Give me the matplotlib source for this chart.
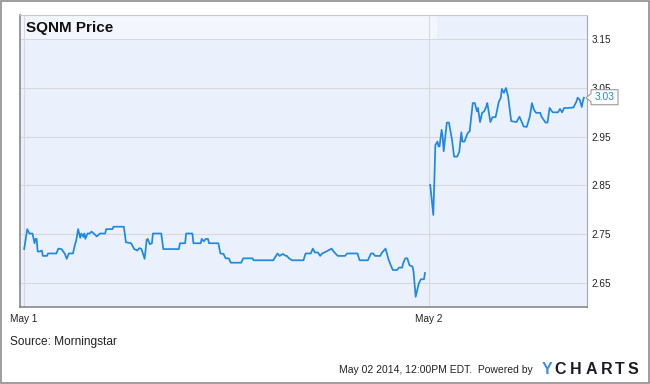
import matplotlib
matplotlib.use('Agg')
import matplotlib.pyplot as plt
from matplotlib.patches import Rectangle, Polygon

plt.rcParams['font.family'] = ['Liberation Sans', 'DejaVu Sans']

# ---------- datos (minutos de negociación desde la apertura del 1 de mayo) ----------
day1_min = [0, 3, 5, 8, 10, 11, 12, 13, 15, 17, 18, 22, 23, 31, 33, 36, 39, 41, 43, 47,
            49, 50, 52, 54, 55, 57, 58, 59, 61, 63, 65, 67, 70, 73, 78, 79, 85, 86, 96, 98,
            103, 106, 109, 111, 113, 116, 118, 119, 121, 123, 124, 132, 134, 149, 150, 155,
            156, 162, 163, 170, 171, 173, 175, 177, 178, 187, 189, 192, 194, 197, 199, 209,
            211, 220, 221, 240, 241, 244, 246, 249, 252, 253, 255, 258, 269, 271, 276, 278,
            280, 283, 285, 287, 291, 296, 298, 302, 309, 311, 321, 323, 331, 334, 336, 338,
            343, 344, 348, 351, 353, 355, 359, 361, 364, 365, 367, 369, 371, 374, 375, 377,
            380, 382, 385, 386]
day1_px = [2.719, 2.760, 2.751, 2.751, 2.731, 2.740, 2.740, 2.714, 2.714, 2.716, 2.705, 2.705,
           2.710, 2.710, 2.720, 2.719, 2.710, 2.699, 2.710, 2.710, 2.729, 2.735, 2.760, 2.742,
           2.751, 2.744, 2.751, 2.740, 2.751, 2.751, 2.755, 2.751, 2.745, 2.751, 2.751, 2.760,
           2.760, 2.765, 2.765, 2.733, 2.731, 2.719, 2.716, 2.721, 2.719, 2.699, 2.738, 2.740,
           2.729, 2.731, 2.751, 2.751, 2.719, 2.719, 2.731, 2.731, 2.751, 2.751, 2.731, 2.731,
           2.740, 2.735, 2.740, 2.740, 2.731, 2.731, 2.710, 2.709, 2.700, 2.700, 2.691, 2.691,
           2.700, 2.700, 2.696, 2.696, 2.700, 2.710, 2.705, 2.709, 2.705, 2.705, 2.700, 2.696,
           2.696, 2.710, 2.710, 2.720, 2.712, 2.712, 2.705, 2.710, 2.714, 2.720, 2.714, 2.705,
           2.705, 2.710, 2.710, 2.696, 2.696, 2.710, 2.710, 2.705, 2.705, 2.710, 2.720, 2.697,
           2.686, 2.676, 2.676, 2.681, 2.681, 2.690, 2.700, 2.700, 2.686, 2.683, 2.672, 2.621,
           2.648, 2.657, 2.657, 2.670]

day2_min = [391, 394, 396, 398, 399, 400, 402, 403, 404, 407, 409, 412, 414, 417, 419, 421,
            422, 424, 427, 429, 432, 434, 436, 437, 439, 441, 443, 445, 446, 449, 451, 454,
            457, 459, 460, 462, 464, 466, 469, 474, 477, 481, 484, 487, 489, 491, 493, 497,
            498, 502, 504, 506, 509, 514, 516, 518, 520, 524, 529, 532, 533, 535, 537, 538, 539]
day2_px = [2.851, 2.789, 2.933, 2.940, 2.930, 2.930, 2.964, 2.950, 2.920, 2.979, 2.979, 2.944,
           2.909, 2.909, 2.919, 2.959, 2.940, 2.940, 2.957, 2.961, 3.019, 3.019, 3.002, 3.009,
           2.980, 2.999, 3.002, 3.012, 3.019, 2.980, 2.990, 2.990, 3.021, 3.030, 3.048, 3.040,
           3.050, 3.033, 2.982, 2.980, 2.991, 2.971, 2.970, 2.992, 3.019, 3.005, 2.999, 2.999,
           2.992, 2.979, 2.979, 3.009, 3.000, 3.000, 3.007, 3.000, 3.009, 3.009, 3.010, 3.023,
           3.030, 3.026, 3.011, 3.023, 3.030]

tick_pos = [0, 390]
tick_labels = ['May 1', 'May 2']
y_ticks = [2.65, 2.75, 2.85, 2.95, 3.05, 3.15]
last_value = 3.03

LINE = '#1e88e5'
W, H = 650, 384

# ---------- figura ----------
fig = plt.figure(figsize=(W / 100, H / 100), dpi=100)
fig.patch.set_facecolor('white')
fig.add_artist(Rectangle((0.001, 0.002), 0.997, 0.996, transform=fig.transFigure,
                         fill=False, edgecolor='#8c8c8c', linewidth=1.2))

ax = fig.add_axes([20 / W, 1 - 307 / H, 567 / W, 292 / H])
ax.set_facecolor('#eaf1fc')
ax.plot(day1_min, day1_px, color=LINE, linewidth=1.25, solid_joinstyle='round')
ax.plot(day2_min, day2_px, color=LINE, linewidth=1.25, solid_joinstyle='round')

ax.set_xlim(-4, 542)
ax.set_ylim(2.6, 3.2)
ax.set_xticks(tick_pos)
ax.set_xticklabels(tick_labels)
ax.set_yticks(y_ticks)
ax.set_yticklabels([f'{v:.2f}' for v in y_ticks])
ax.yaxis.tick_right()
ax.tick_params(axis='both', length=0, labelsize=7.2, colors='#222222')
ax.tick_params(axis='y', pad=3)
ax.tick_params(axis='x', pad=5)
ax.grid(True, color='#d9d9d9', linewidth=0.8)
ax.set_axisbelow(True)
ax.spines['top'].set_color('#c8c8c8')
ax.spines['right'].set_color('#a8a8a8')
for side in ['left', 'bottom']:
    ax.spines[side].set_color('#888888')
    ax.spines[side].set_linewidth(1.2)

# banda del título
ax.add_patch(Rectangle((0, 0.914), 0.735, 0.086, transform=ax.transAxes,
                       facecolor='white', alpha=0.45, edgecolor='none', zorder=0.5))
ax.text(0.011, 0.957, 'SQNM Price', transform=ax.transAxes, fontsize=11,
        fontweight='bold', va='center', ha='left', color='#111111')

# etiqueta del último valor (caja con flecha hacia la izquierda)
x0, y0 = ax.transAxes.transform((1.0, 0))[0], ax.transData.transform((0, last_value))[1]
pts = [(x0 - 1, y0), (x0 + 4, y0 + 4), (x0 + 4, y0 + 8), (x0 + 31, y0 + 8),
       (x0 + 31, y0 - 7), (x0 + 4, y0 - 7), (x0 + 4, y0 - 4)]
pts = [fig.transFigure.inverted().transform(p) for p in pts]
fig.add_artist(Polygon(pts, closed=True, transform=fig.transFigure, facecolor='white',
                       edgecolor='#999999', linewidth=0.8, zorder=5))
fx, fy = fig.transFigure.inverted().transform((x0 + 17.5, y0 + 0.5))
fig.text(fx, fy, f'{last_value:.2f}', fontsize=7.4, color=LINE, va='center', ha='center',
         zorder=6)

# textos al pie
fig.text(10 / W, 1 - 342 / H, 'Source: Morningstar', fontsize=8.6, va='center',
         ha='left', color='#222222')
fig.text(533 / W, 1 - 370 / H, 'May 02 2014, 12:00PM EDT.  Powered by', fontsize=7.5,
         va='center', ha='right', color='#222222')
fig.text(546.7 / W, 1 - 369 / H, 'Y', fontsize=11.5, fontweight='bold', va='center',
         ha='center', color='#3b8fe0')
for letter, cx in zip('CHARTS', [560.5, 575.8, 591.2, 606.2, 619.7, 633.3]):
    fig.text(cx / W, 1 - 369 / H, letter, fontsize=11.5, fontweight='bold', va='center',
             ha='center', color='#1c1c28')

fig.savefig('out.png', dpi=100)
